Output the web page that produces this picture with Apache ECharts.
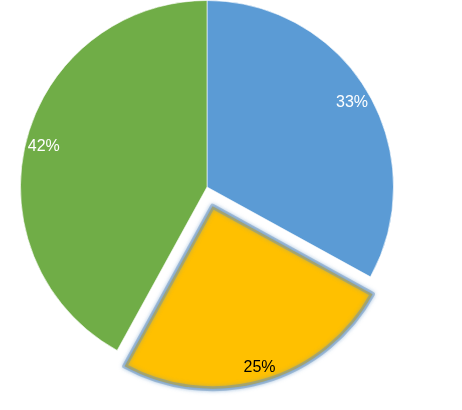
<!DOCTYPE html>
<html><head><meta charset="utf-8">
<script src="https://cdn.jsdelivr.net/npm/echarts@6/dist/echarts.min.js"></script>
<style>html,body{margin:0;padding:0;background:#fff}#c{width:462px;height:410px}</style>
</head><body><div id="c"></div>
<script>
const categories = ['A', 'B', 'C'];
const values = [33, 25, 42];
const labels = ['33%', '25%', '42%'];
const colors = ['#5B9BD5', '#FFC000', '#70AD47'];
const labelColors = ['#ffffff', '#000000', '#ffffff'];
const explodedIndex = 1;

const chart = echarts.init(document.getElementById('c'), null, {renderer: 'canvas'});
const clear = 'rgba(0,0,0,0)';
const glow = {color: colors[1], borderColor: 'rgba(105,145,185,0.45)', borderWidth: 5, shadowBlur: 4, shadowColor: 'rgba(91,145,200,0.85)'};

const baseData = categories.map((c, i) => ({
  name: c, value: values[i],
  itemStyle: i === explodedIndex ? {color: clear, borderWidth: 0} : {color: colors[i], borderColor: '#ffffff', borderWidth: 0.6}
}));
const explodedData = categories.map((c, i) => ({
  name: c, value: values[i], selected: i === explodedIndex,
  itemStyle: i === explodedIndex ? glow : {color: clear, borderWidth: 0},
  select: {itemStyle: i === explodedIndex ? glow : {color: clear, borderWidth: 0}}
}));
const labelData = categories.map((c, i) => ({
  name: c, value: values[i], selected: i === explodedIndex,
  label: {color: labelColors[i], formatter: labels[i], offset: i === explodedIndex ? [0, 3] : [0, 1.5]}
}));

const common = {type: 'pie', center: [207, 187], startAngle: 90, clockwise: true, silent: true,
  selectedMode: 'single', selectedOffset: 20, labelLine: {show: false}};

chart.setOption({
  animation: false,
  series: [
    Object.assign({}, common, {radius: [0, 186.5], label: {show: false}, data: baseData}),
    Object.assign({}, common, {radius: [0, 182.5], label: {show: false}, data: explodedData}),
    Object.assign({}, common, {
      radius: [0, 331],
      itemStyle: {color: clear},
      select: {itemStyle: {color: clear, borderWidth: 0}},
      label: {show: true, position: 'inside', fontFamily: 'Liberation Sans', fontSize: 16},
      data: labelData
    })
  ]
});
</script></body></html>
